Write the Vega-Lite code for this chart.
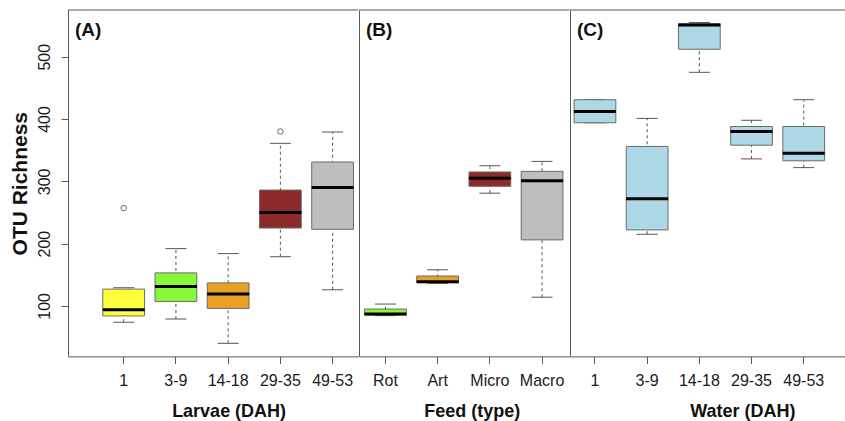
{
  "$schema": "https://vega.github.io/schema/vega-lite/v6.json",
  "background": "white",
  "padding": {"left": 9, "top": 9, "right": 0, "bottom": 0},
  "spacing": 0,
  "bounds": "flush",
  "resolve": {"scale": {"fill": "independent"}},
  "datasets": {
    "larvae": [
      {"cat": "1", "lo": 74, "q1": 84, "med": 94, "q3": 127, "hi": 129},
      {"cat": "3-9", "lo": 79, "q1": 107, "med": 131, "q3": 153, "hi": 192},
      {"cat": "14-18", "lo": 40, "q1": 96, "med": 119, "q3": 137, "hi": 184},
      {"cat": "29-35", "lo": 179, "q1": 225, "med": 250, "q3": 286, "hi": 361},
      {"cat": "49-53", "lo": 126, "q1": 223, "med": 290, "q3": 331, "hi": 379}
    ],
    "larvaeOut": [
      {"cat": "1", "value": 257},
      {"cat": "29-35", "value": 380}
    ],
    "feed": [
      {"cat": "Rot", "lo": 84.5, "q1": 85.5, "med": 87, "q3": 95, "hi": 103},
      {"cat": "Art", "lo": 136.3, "q1": 137.4, "med": 139, "q3": 148, "hi": 158},
      {"cat": "Micro", "lo": 281, "q1": 292, "med": 305, "q3": 315, "hi": 325},
      {"cat": "Macro", "lo": 114, "q1": 206, "med": 301, "q3": 316, "hi": 332}
    ],
    "water": [
      {"cat": "1", "lo": 394, "q1": 394, "med": 412, "q3": 431, "hi": 431},
      {"cat": "3-9", "lo": 215, "q1": 222, "med": 272, "q3": 356, "hi": 401},
      {"cat": "14-18", "lo": 475, "q1": 512, "med": 551, "q3": 553, "hi": 555},
      {"cat": "29-35", "lo": 336, "q1": 358, "med": 380, "q3": 388, "hi": 398},
      {"cat": "49-53", "lo": 322, "q1": 333, "med": 345, "q3": 388, "hi": 431}
    ]
  },
  "config": {
    "view": {"stroke": null},
    "font": "Liberation Sans",
    "axis": {
      "grid": false,
      "domainColor": "#555",
      "domainWidth": 1,
      "tickColor": "#555",
      "tickWidth": 1,
      "tickSize": 7,
      "labelColor": "#1a1a1a",
      "labelFont": "Liberation Sans",
      "labelFontSize": 16,
      "titleColor": "#111",
      "titleFont": "Liberation Sans",
      "titleFontWeight": "bold"
    }
  },
  "hconcat": [
    {
      "width": 290.2,
      "height": 346.4,
      "layer": [
        {
          "data": {"name": "larvae"},
          "mark": {"type": "rule", "strokeDash": [3, 3], "color": "#555", "strokeWidth": 1, "opacity": 1},
          "encoding": {
            "x": {"field": "cat", "type": "nominal", "title": "Larvae (DAH)",
              "scale": {"domain": ["1", "3-9", "14-18", "29-35", "49-53"], "paddingInner": 0.2, "paddingOuter": 0.378, "align": 0.881},
              "axis": {"labelAngle": 0, "labelPadding": 22.3, "labelBaseline": "alphabetic", "titleX": 160.6, "titleY": 60.3, "titleBaseline": "alphabetic", "titleFontSize": 18}},
            "y": {"field": "lo", "type": "quantitative", "title": "OTU Richness",
              "scale": {"domain": [19, 575], "nice": false, "zero": false},
              "axis": {"values": [100, 200, 300, 400, 500], "labelAngle": -90, "labelAlign": "center", "labelBaseline": "alphabetic", "labelPadding": 11.3, "titleAngle": -90, "titleX": -41.6, "titleY": 173.2, "titleBaseline": "alphabetic", "titleAlign": "center", "titleFontSize": 21}},
            "y2": {"field": "hi"}
          }
        },
        {
          "data": {"name": "larvae"},
          "mark": {"type": "tick", "size": 21, "thickness": 1, "color": "#555", "opacity": 1},
          "encoding": {
            "x": {"field": "cat", "type": "nominal", "title": "Larvae (DAH)"},
            "y": {"field": "lo", "type": "quantitative", "title": "OTU Richness"}
          }
        },
        {
          "data": {"name": "larvae"},
          "mark": {"type": "tick", "size": 21, "thickness": 1, "color": "#555", "opacity": 1},
          "encoding": {
            "x": {"field": "cat", "type": "nominal", "title": "Larvae (DAH)"},
            "y": {"field": "hi", "type": "quantitative", "title": "OTU Richness"}
          }
        },
        {
          "data": {"name": "larvae"},
          "mark": {"type": "bar", "stroke": "#6a6a6a", "strokeWidth": 1, "opacity": 1},
          "encoding": {
            "x": {"field": "cat", "type": "nominal", "title": "Larvae (DAH)"},
            "y": {"field": "q1", "type": "quantitative", "title": "OTU Richness"},
            "y2": {"field": "q3"},
            "fill": {"field": "cat", "type": "nominal", "legend": null,
              "scale": {"domain": ["1", "3-9", "14-18", "29-35", "49-53"], "range": ["#ffff3c", "#88f83a", "#e8a025", "#8e2a2a", "#bebebe"]}}
          }
        },
        {
          "data": {"name": "larvae"},
          "mark": {"type": "tick", "size": 42, "thickness": 3, "color": "#000", "opacity": 1},
          "encoding": {
            "x": {"field": "cat", "type": "nominal", "title": "Larvae (DAH)"},
            "y": {"field": "med", "type": "quantitative", "title": "OTU Richness"}
          }
        },
        {
          "data": {"name": "larvaeOut"},
          "mark": {"type": "point", "shape": "circle", "filled": false, "size": 30, "stroke": "#666", "strokeWidth": 1, "opacity": 1},
          "encoding": {
            "x": {"field": "cat", "type": "nominal", "title": "Larvae (DAH)"},
            "y": {"field": "value", "type": "quantitative", "title": "OTU Richness"}
          }
        },
        {
          "data": {"values": [{}]},
          "mark": {"type": "rule", "color": "#555", "strokeWidth": 1, "opacity": 1},
          "encoding": {
            "y": {"datum": 575, "type": "quantitative", "title": "OTU Richness"}
          }
        },
        {
          "data": {"values": [{"label": "(A)"}]},
          "mark": {"type": "text", "align": "left", "baseline": "alphabetic", "fontSize": 19, "fontWeight": "bold", "font": "Liberation Sans", "color": "#111", "dx": -48.7},
          "encoding": {
            "text": {"field": "label"},
            "x": {"datum": "1", "type": "nominal", "title": "Larvae (DAH)"},
            "y": {"datum": 533.7, "type": "quantitative", "title": "OTU Richness"}
          }
        }
      ]
    },
    {
      "width": 210.5,
      "height": 346.4,
      "layer": [
        {
          "data": {"name": "feed"},
          "mark": {"type": "rule", "strokeDash": [3, 3], "color": "#555", "strokeWidth": 1, "opacity": 1},
          "encoding": {
            "x": {"field": "cat", "type": "nominal", "title": "Feed (type)",
              "scale": {"domain": ["Rot", "Art", "Micro", "Macro"], "paddingInner": 0.2, "paddingOuter": 0.116, "align": 0.46},
              "axis": {"labelAngle": 0, "labelPadding": 22.3, "labelBaseline": "alphabetic", "titleX": 112.8, "titleY": 60.3, "titleBaseline": "alphabetic", "titleFontSize": 18}},
            "y": {"field": "lo", "type": "quantitative", "title": null,
              "scale": {"domain": [19, 575], "nice": false, "zero": false},
              "axis": {"labels": false, "ticks": false, "title": null}},
            "y2": {"field": "hi"}
          }
        },
        {
          "data": {"name": "feed"},
          "mark": {"type": "tick", "size": 21, "thickness": 1, "color": "#555", "opacity": 1},
          "encoding": {
            "x": {"field": "cat", "type": "nominal", "title": "Feed (type)"},
            "y": {"field": "lo", "type": "quantitative", "title": null}
          }
        },
        {
          "data": {"name": "feed"},
          "mark": {"type": "tick", "size": 21, "thickness": 1, "color": "#555", "opacity": 1},
          "encoding": {
            "x": {"field": "cat", "type": "nominal", "title": "Feed (type)"},
            "y": {"field": "hi", "type": "quantitative", "title": null}
          }
        },
        {
          "data": {"name": "feed"},
          "mark": {"type": "bar", "stroke": "#6a6a6a", "strokeWidth": 1, "opacity": 1},
          "encoding": {
            "x": {"field": "cat", "type": "nominal", "title": "Feed (type)"},
            "y": {"field": "q1", "type": "quantitative", "title": null},
            "y2": {"field": "q3"},
            "fill": {"field": "cat", "type": "nominal", "legend": null,
              "scale": {"domain": ["Rot", "Art", "Micro", "Macro"], "range": ["#88f83a", "#e8a025", "#8e2a2a", "#bebebe"]}}
          }
        },
        {
          "data": {"name": "feed"},
          "mark": {"type": "tick", "size": 42, "thickness": 3, "color": "#000", "opacity": 1},
          "encoding": {
            "x": {"field": "cat", "type": "nominal", "title": "Feed (type)"},
            "y": {"field": "med", "type": "quantitative", "title": null}
          }
        },
        {
          "data": {"values": [{}]},
          "mark": {"type": "rule", "color": "#555", "strokeWidth": 1, "opacity": 1},
          "encoding": {
            "y": {"datum": 575, "type": "quantitative", "title": null}
          }
        },
        {
          "data": {"values": [{"label": "(B)"}]},
          "mark": {"type": "text", "align": "left", "baseline": "alphabetic", "fontSize": 19, "fontWeight": "bold", "font": "Liberation Sans", "color": "#111", "dx": -19.5},
          "encoding": {
            "text": {"field": "label"},
            "x": {"datum": "Rot", "type": "nominal", "title": "Feed (type)"},
            "y": {"datum": 533.7, "type": "quantitative", "title": null}
          }
        }
      ]
    },
    {
      "width": 276,
      "height": 346.4,
      "layer": [
        {
          "data": {"name": "water"},
          "mark": {"type": "rule", "strokeDash": [3, 3], "color": "#555", "strokeWidth": 1, "opacity": 1},
          "encoding": {
            "x": {"field": "cat", "type": "nominal", "title": "Water (DAH)",
              "scale": {"domain": ["1", "3-9", "14-18", "29-35", "49-53"], "paddingInner": 0.2, "paddingOuter": 0.244, "align": 0.16},
              "axis": {"labelAngle": 0, "labelPadding": 22.3, "labelBaseline": "alphabetic", "titleX": 172.3, "titleY": 60.3, "titleBaseline": "alphabetic", "titleFontSize": 18}},
            "y": {"field": "lo", "type": "quantitative", "title": null,
              "scale": {"domain": [19, 575], "nice": false, "zero": false},
              "axis": {"labels": false, "ticks": false, "title": null}},
            "y2": {"field": "hi"}
          }
        },
        {
          "data": {"name": "water"},
          "mark": {"type": "tick", "size": 21, "thickness": 1, "color": "#555", "opacity": 1},
          "encoding": {
            "x": {"field": "cat", "type": "nominal", "title": "Water (DAH)"},
            "y": {"field": "lo", "type": "quantitative", "title": null}
          }
        },
        {
          "data": {"name": "water"},
          "mark": {"type": "tick", "size": 21, "thickness": 1, "color": "#555", "opacity": 1},
          "encoding": {
            "x": {"field": "cat", "type": "nominal", "title": "Water (DAH)"},
            "y": {"field": "hi", "type": "quantitative", "title": null}
          }
        },
        {
          "data": {"name": "water"},
          "mark": {"type": "bar", "fill": "#add8e6", "stroke": "#6a6a6a", "strokeWidth": 1, "opacity": 1},
          "encoding": {
            "x": {"field": "cat", "type": "nominal", "title": "Water (DAH)"},
            "y": {"field": "q1", "type": "quantitative", "title": null},
            "y2": {"field": "q3"}
          }
        },
        {
          "data": {"name": "water"},
          "mark": {"type": "tick", "size": 42, "thickness": 3, "color": "#000", "opacity": 1},
          "encoding": {
            "x": {"field": "cat", "type": "nominal", "title": "Water (DAH)"},
            "y": {"field": "med", "type": "quantitative", "title": null}
          }
        },
        {
          "data": {"values": [{}]},
          "mark": {"type": "rule", "color": "#555", "strokeWidth": 1, "opacity": 1},
          "encoding": {
            "y": {"datum": 575, "type": "quantitative", "title": null}
          }
        },
        {
          "data": {"values": [{"label": "(C)"}]},
          "mark": {"type": "text", "align": "left", "baseline": "alphabetic", "fontSize": 19, "fontWeight": "bold", "font": "Liberation Sans", "color": "#111", "dx": -18},
          "encoding": {
            "text": {"field": "label"},
            "x": {"datum": "1", "type": "nominal", "title": "Water (DAH)"},
            "y": {"datum": 533.7, "type": "quantitative", "title": null}
          }
        }
      ]
    }
  ]
}
